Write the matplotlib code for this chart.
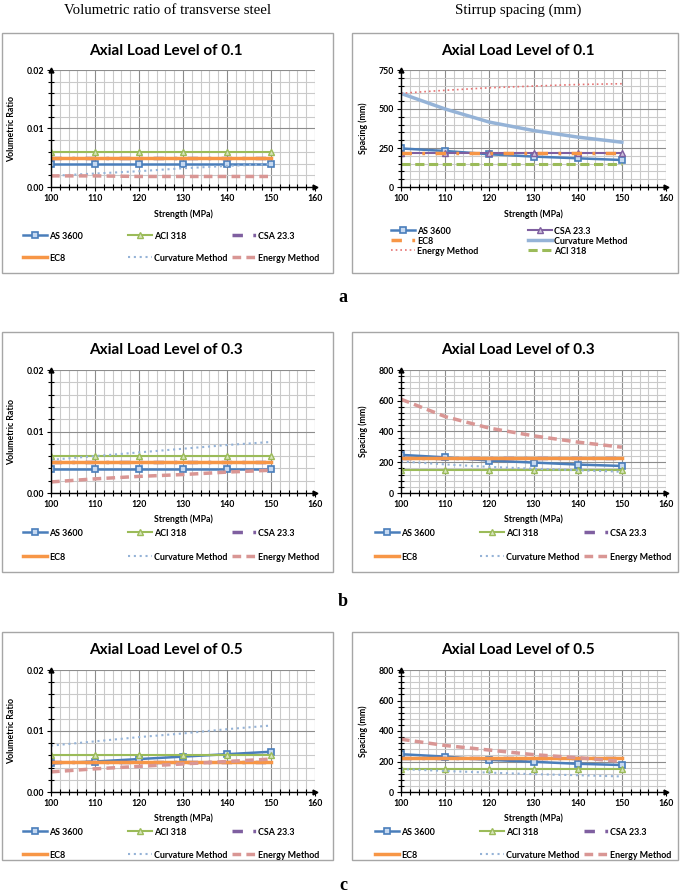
import matplotlib
matplotlib.use('Agg')
import matplotlib.pyplot as plt
from matplotlib.patches import Rectangle
from matplotlib.ticker import MultipleLocator, FormatStrFormatter
import numpy as np

plt.rcParams['font.family'] = ['Lato', 'DejaVu Sans']
plt.rcParams['font.weight'] = 'bold'

W, H = 685, 896
fig = plt.figure(figsize=(W / 100, H / 100), dpi=100)

# ---------------- data ----------------
strength = [100, 110, 120, 130, 140, 150]

# volumetric ratio
vr01_as3600 = [0.0039, 0.0039, 0.0039, 0.0039, 0.0039, 0.0039]
vr01_aci318 = [0.0060, 0.0060, 0.0060, 0.0060, 0.0060, 0.0060]
vr01_csa233 = [0.0050, 0.0050, 0.0050, 0.0050, 0.0050, 0.0050]
vr01_ec8 = [0.0050, 0.0050, 0.0050, 0.0050, 0.0050, 0.0050]
vr01_curv = [0.0019, 0.0023, 0.0027, 0.0032, 0.0036, 0.0039]
vr01_energy = [0.0019, 0.0019, 0.0018, 0.0018, 0.0018, 0.0018]

vr03_as3600 = [0.0039, 0.0039, 0.0039, 0.0039, 0.0039, 0.0039]
vr03_aci318 = [0.0060, 0.0060, 0.0060, 0.0060, 0.0060, 0.0060]
vr03_csa233 = [0.0050, 0.0050, 0.0050, 0.0050, 0.0050, 0.0050]
vr03_ec8 = [0.0050, 0.0050, 0.0050, 0.0050, 0.0050, 0.0050]
vr03_curv = [0.0054, 0.0060, 0.0066, 0.0072, 0.0078, 0.0083]
vr03_energy = [0.0018, 0.0023, 0.0027, 0.0030, 0.0034, 0.0037]

vr05_as3600 = [0.0047, 0.0050, 0.0054, 0.0058, 0.0062, 0.0066]
vr05_aci318 = [0.0060, 0.0060, 0.0060, 0.0060, 0.0060, 0.0060]
vr05_csa233 = [0.0050, 0.0050, 0.0050, 0.0050, 0.0050, 0.0050]
vr05_ec8 = [0.0050, 0.0050, 0.0050, 0.0050, 0.0050, 0.0050]
vr05_curv = [0.0076, 0.0083, 0.0090, 0.0096, 0.0103, 0.0109]
vr05_energy = [0.0033, 0.0038, 0.0042, 0.0046, 0.0050, 0.0054]

# stirrup spacing
sp01_as3600 = [247, 231, 210, 195, 184, 173]
sp01_csa233 = [220, 220, 220, 220, 220, 220]
sp01_ec8 = [220, 220, 220, 220, 220, 220]
sp01_curv = [600, 500, 416, 362, 320, 287]
sp01_energy = [601, 620, 636, 647, 657, 662]
sp01_aci318 = [150, 150, 150, 150, 150, 150]

sp03_as3600 = [248, 232, 211, 198, 185, 176]
sp03_aci318 = [150, 150, 150, 150, 150, 150]
sp03_csa233 = [225, 225, 225, 225, 225, 225]
sp03_ec8 = [225, 225, 225, 225, 225, 225]
sp03_curv = [205, 186, 170, 158, 148, 138]
sp03_energy = [610, 497, 422, 372, 331, 298]

sp05_as3600 = [248, 232, 211, 198, 185, 177]
sp05_aci318 = [150, 150, 150, 150, 150, 150]
sp05_csa233 = [225, 225, 225, 225, 225, 225]
sp05_ec8 = [225, 225, 225, 225, 225, 225]
sp05_curv = [150, 138, 127, 117, 110, 102]
sp05_energy = [346, 305, 275, 245, 225, 200]

# ---------------- styles ----------------
C_BLUE = '#4a7ebb'
C_GREEN = '#9bbb59'
C_PURPLE = '#7f5fa0'
C_ORANGE = '#f79646'
C_LBLUE = '#95b3d7'
C_PINK = '#d99694'

S_AS = dict(color=C_BLUE, lw=1.8, marker='s', ms=5, mfc='#c6d9f1', mec=C_BLUE, mew=1.2)
S_ACI = dict(color=C_GREEN, lw=1.5, marker='^', ms=5, mfc='#d7e4bd', mec=C_GREEN, mew=1.0)
S_ACI_DASH = dict(color=C_GREEN, lw=2.2, ls=(0, (3, 1.5)))
S_CSA = dict(color=C_PURPLE, lw=2.5, ls=(0, (3, 3, 0.8, 3)))
S_CSA_MARK = dict(color=C_PURPLE, lw=1.5, marker='^', ms=5, mfc='#ccc1da', mec=C_PURPLE, mew=1.0)
S_EC8 = dict(color=C_ORANGE, lw=2.5)
S_EC8_DD = dict(color=C_ORANGE, lw=2.5, ls=(0, (3, 3, 0.8, 3)))
S_CURV = dict(color=C_LBLUE, lw=1.5, ls=(0, (1, 1.8)))
S_CURV_SOLID = dict(color=C_LBLUE, lw=2.5)
S_EN = dict(color=C_PINK, lw=2.5, ls=(0, (2.5, 1.5)))
S_EN_DOT = dict(color='#e57373', lw=1.2, ls=(0, (1, 1.8)))


def px_axes(x0, y0, x1, y1):
    return fig.add_axes([x0 / W, 1 - y1 / H, (x1 - x0) / W, (y1 - y0) / H])


def box(x0, y0, x1, y1):
    fig.add_artist(Rectangle((x0 / W, 1 - y1 / H), (x1 - x0) / W, (y1 - y0) / H,
                             transform=fig.transFigure, fill=False, ec='#a6a6a6', lw=1.0))


def style_axes(ax, ymax, ymaj, ymin, fmt):
    ax.set_xlim(100, 160)
    ax.set_ylim(0, ymax)
    ax.xaxis.set_major_locator(MultipleLocator(10))
    ax.xaxis.set_minor_locator(MultipleLocator(2))
    ax.yaxis.set_major_locator(MultipleLocator(ymaj))
    ax.yaxis.set_minor_locator(MultipleLocator(ymin))
    ax.yaxis.set_major_formatter(FormatStrFormatter(fmt))
    ax.grid(which='major', color='#8c8c8c', lw=0.8)
    ax.grid(which='minor', color='#cacaca', lw=0.8)
    ax.set_axisbelow(True)
    for s in ['top', 'right']:
        ax.spines[s].set_visible(False)
    for s in ['left', 'bottom']:
        ax.spines[s].set_color('black')
        ax.spines[s].set_linewidth(1.0)
    ax.tick_params(which='major', direction='out', length=3, width=0.8, labelsize=6.3, pad=2, colors='black')
    ax.tick_params(which='minor', direction='inout', length=4, width=0.8)
    ax.plot([0], [1], marker='^', color='black', ms=3.5, transform=ax.transAxes, clip_on=False)
    ax.plot([1], [0], marker='>', color='black', ms=3.5, transform=ax.transAxes, clip_on=False)


def add_leg(line, label, xpx, ypx):
    fig.legend([line], [label], loc='center left', bbox_to_anchor=(xpx / W, 1 - ypx / H),
               bbox_transform=fig.transFigure, frameon=False, borderpad=0, borderaxespad=0,
               handlelength=2.7, handletextpad=0.25, prop=dict(size=6.4, weight='bold'))


def panel(bx, ax_px, title, title_xy, xlab_y, ylab_x, ylabel, series, ymax, ymaj, ymin, fmt, leg_pos):
    box(*bx)
    ax = px_axes(*ax_px)
    lines = {}
    for name, vals, st in series:
        ln, = ax.plot(strength, vals, **st)
        lines[name] = ln
    style_axes(ax, ymax, ymaj, ymin, fmt)
    fig.text(title_xy[0] / W, 1 - title_xy[1] / H, title, ha='center', va='center',
             fontsize=11, fontweight='bold')
    ax.yaxis.set_label_coords((ylab_x - ax_px[0]) / (ax_px[2] - ax_px[0]), 0.5)
    ax.set_ylabel(ylabel, fontsize=6.3, fontweight='bold')
    fig.text((ax_px[0] + ax_px[2]) / 2 / W, 1 - xlab_y / H, 'Strength (MPa)', ha='center', va='center',
             fontsize=6.3, fontweight='bold')
    for name, (xp, yp) in leg_pos.items():
        add_leg(lines[name], name, xp, yp)
    return ax


titles = ['Axial Load Level of 0.1', 'Axial Load Level of 0.3', 'Axial Load Level of 0.5']

rows = [
    dict(box=(33, 273), plot=(70, 187), title=51, xlab=214, leg=(236, 258), legr=(231, 241, 251)),
    dict(box=(332, 572), plot=(370, 493), title=350, xlab=519, leg=(533, 557), legr=None),
    dict(box=(632, 860), plot=(670, 792), title=650, xlab=818, leg=(832, 855), legr=None),
]

vr_series = [
    [('AS 3600', vr01_as3600, S_AS), ('ACI 318', vr01_aci318, S_ACI), ('CSA 23.3', vr01_csa233, S_CSA),
     ('EC8', vr01_ec8, S_EC8), ('Curvature Method', vr01_curv, S_CURV), ('Energy Method', vr01_energy, S_EN)],
    [('AS 3600', vr03_as3600, S_AS), ('ACI 318', vr03_aci318, S_ACI), ('CSA 23.3', vr03_csa233, S_CSA),
     ('EC8', vr03_ec8, S_EC8), ('Curvature Method', vr03_curv, S_CURV), ('Energy Method', vr03_energy, S_EN)],
    [('AS 3600', vr05_as3600, S_AS), ('ACI 318', vr05_aci318, S_ACI), ('CSA 23.3', vr05_csa233, S_CSA),
     ('EC8', vr05_ec8, S_EC8), ('Curvature Method', vr05_curv, S_CURV), ('Energy Method', vr05_energy, S_EN)],
]
sp_series = [
    [('AS 3600', sp01_as3600, S_AS), ('CSA 23.3', sp01_csa233, S_CSA_MARK), ('EC8', sp01_ec8, S_EC8_DD),
     ('Curvature Method', sp01_curv, S_CURV_SOLID), ('Energy Method', sp01_energy, S_EN_DOT),
     ('ACI 318', sp01_aci318, S_ACI_DASH)],
    [('AS 3600', sp03_as3600, S_AS), ('ACI 318', sp03_aci318, S_ACI), ('CSA 23.3', sp03_csa233, S_CSA),
     ('EC8', sp03_ec8, S_EC8), ('Curvature Method', sp03_curv, S_CURV), ('Energy Method', sp03_energy, S_EN)],
    [('AS 3600', sp05_as3600, S_AS), ('ACI 318', sp05_aci318, S_ACI), ('CSA 23.3', sp05_csa233, S_CSA),
     ('EC8', sp05_ec8, S_EC8), ('Curvature Method', sp05_curv, S_CURV), ('Energy Method', sp05_energy, S_EN)],
]

L_BOX = (2, 333)
R_BOX = (352, 678)
L_PLOT = (51, 315)
R_PLOT = (401, 666)

for i, r in enumerate(rows):
    lp = {
        'AS 3600': (23, r['leg'][0]), 'ACI 318': (128, r['leg'][0]), 'CSA 23.3': (232, r['leg'][0]),
        'EC8': (23, r['leg'][1]), 'Curvature Method': (128, r['leg'][1]), 'Energy Method': (232, r['leg'][1]),
    }
    panel((L_BOX[0], r['box'][0], L_BOX[1], r['box'][1]),
          (L_PLOT[0], r['plot'][0], L_PLOT[1], r['plot'][1]), titles[i],
          (166, r['title']), r['xlab'], 16, 'Volumetric Ratio', vr_series[i], 0.02, 0.01, 0.002, '%.2f', lp)

    if r['legr'] is not None:
        y1, y2, y3 = r['legr']
        rp = {'AS 3600': (391, y1), 'CSA 23.3': (528, y1), 'EC8': (391, y2), 'Curvature Method': (528, y2),
              'Energy Method': (391, y3), 'ACI 318': (528, y3)}
        ymax, ymaj, ymin = 750, 250, 50
    else:
        rp = {
            'AS 3600': (375, r['leg'][0]), 'ACI 318': (480, r['leg'][0]), 'CSA 23.3': (584, r['leg'][0]),
            'EC8': (375, r['leg'][1]), 'Curvature Method': (480, r['leg'][1]), 'Energy Method': (584, r['leg'][1]),
        }
        ymax, ymaj, ymin = 800, 200, 40
    panel((R_BOX[0], r['box'][0], R_BOX[1], r['box'][1]),
          (R_PLOT[0], r['plot'][0], R_PLOT[1], r['plot'][1]), titles[i],
          (518, r['title']), r['xlab'], 368, 'Spacing (mm)', sp_series[i], ymax, ymaj, ymin, '%d', rp)

# column headers
fig.text(168 / W, 1 - 10 / H, 'Volumetric ratio of transverse steel', ha='center', va='center',
         fontsize=10.6, fontweight='normal', family='Liberation Serif')
fig.text(518 / W, 1 - 10 / H, 'Stirrup spacing (mm)', ha='center', va='center',
         fontsize=10.6, fontweight='normal', family='Liberation Serif')

# panel letters
for lab, yp in [('a', 298), ('b', 602), ('c', 885)]:
    fig.text(343 / W, 1 - yp / H, lab, ha='center', va='center', fontsize=13, fontweight='bold',
             family='Liberation Serif')

fig.savefig('out.png', dpi=100)
